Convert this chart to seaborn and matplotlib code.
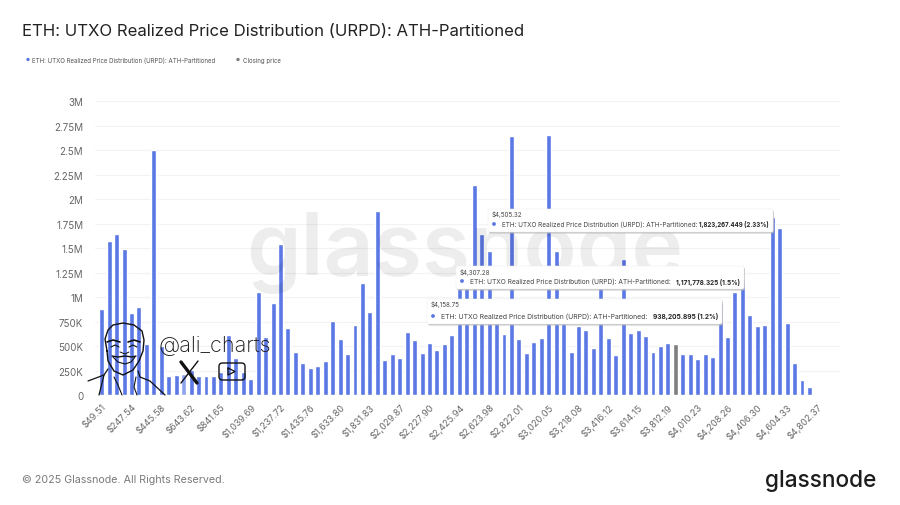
import matplotlib
matplotlib.use('Agg')
import matplotlib.pyplot as plt
import numpy as np
import pandas as pd
import seaborn as sns
from matplotlib.patches import FancyBboxPatch, Circle

SERIES_NAME = 'ETH: UTXO Realized Price Distribution (URPD): ATH-Partitioned'

supply = [
	880000, 1572000, 1645000, 1495000, 835000, 900000, 520000, 2505000, 505000, 195000,
	205000, 210000, 255000, 195000, 192000, 192000, 235000, 612000, 380000, 235000,
	168000, 1056000, 595000, 937000, 1543000, 680000, 441000, 322000, 277000, 294000,
	345000, 756000, 570000, 420000, 714000, 1140000, 844000, 1880000, 355000, 415000,
	373000, 646000, 560000, 431000, 536000, 455000, 523000, 612000, 1150000, 1200000,
	2145000, 1645000, 1474000, 880000, 618000, 2647000, 570000, 431000, 543000, 585000,
	2653000, 1470000, 900000, 441000, 706000, 663000, 482000, 1200000, 578000, 405000,
	1387000, 636000, 663000, 606000, 441000, 499000, 536000, 526000, 414000, 420000,
	369000, 417000, 390000, 938000, 588000, 1056000, 1171000, 816000, 704000, 718000,
	1823000, 1703000, 731000, 322000, 158000, 83000, 10000, 4000, 3000, 2000,
]
closing_bin = 77
hover_bin = 11

price_labels = [
	'$49.51', '$247.54', '$445.58', '$643.62', '$841.65', '$1,039.69', '$1,237.72',
	'$1,435.76', '$1,633.80', '$1,831.83', '$2,029.87', '$2,227.90', '$2,425.94',
	'$2,623.98', '$2,822.01', '$3,020.05', '$3,218.08', '$3,416.12', '$3,614.15',
	'$3,812.19', '$4,010.23', '$4,208.26', '$4,406.30', '$4,604.33', '$4,802.37',
]
y_ticks = [0, 250000, 500000, 750000, 1000000, 1250000, 1500000, 1750000, 2000000,
	2250000, 2500000, 2750000, 3000000]
y_labels = ['0', '250K', '500K', '750K', '1M', '1.25M', '1.5M', '1.75M', '2M',
	'2.25M', '2.5M', '2.75M', '3M']

tooltip_prices = ['$4,505.32', '$4,307.28', '$4,158.75']
tooltip_values = ['1,823,267.449 (2.33%)', '1,171,778.325 (1.5%)', '938,205.895 (1.2%)']

# pixel boxes and font sizes of the pasted tooltips
TOOLTIP_BOXES = [(488, 210, 773, 233), (456, 267, 744, 290), (427, 300, 722, 325)]
TOOLTIP_NAME_SIZES = [4.62, 4.76, 4.92]
TOOLTIP_VALUE_SIZES = [4.4, 4.6, 4.77]

BLUE = '#5b78e5'
GREY = '#7f7f7f'
LIGHT = '#8ea3ee'

def px_axes(fig, left, top, right, bottom):
	return fig.add_axes([left / 900, 1 - bottom / 506, (right - left) / 900, (bottom - top) / 506])

def draw_bars(ax):
	kinds = ['bar'] * len(supply)
	kinds[closing_bin] = 'close'
	kinds[hover_bin] = 'hover'
	df = pd.DataFrame({'bin': range(len(supply)), 'supply': supply, 'kind': kinds})
	sns.barplot(data=df, x='bin', y='supply', hue='kind', dodge=False, width=0.66, ax=ax,
		palette={'bar': BLUE, 'close': GREY, 'hover': LIGHT}, legend=False, saturation=1)
	ax.set_xlim(-0.9, 99.1)
	ax.set_ylim(0, 3000000)
	ax.set_xticks(range(0, len(price_labels) * 4, 4))
	ax.set_xticklabels(price_labels, rotation=45, ha='right', rotation_mode='anchor',
		fontsize=6.6, color='#666666')
	ax.set_yticks(y_ticks)
	ax.set_yticklabels(y_labels, fontsize=7, color='#666666')
	ax.tick_params(length=0, axis='y', pad=8.5)
	ax.tick_params(length=0, axis='x', pad=5)
	ax.set_xlabel('')
	ax.set_ylabel('')
	ax.grid(axis='y', color='#f3f3f3', linewidth=0.9)
	ax.set_axisbelow(True)
	sns.despine(ax=ax, left=True, bottom=True)

def draw_tooltip(ov, i):
	x0, y0, x1, y1 = TOOLTIP_BOXES[i]
	ov.add_patch(FancyBboxPatch((x0 + 1, y0 + 1.5), x1 - x0, y1 - y0, boxstyle='round,pad=0,rounding_size=2',
		fc='#b5b5b5', ec='none', alpha=0.8, zorder=5))
	ov.add_patch(FancyBboxPatch((x0, y0), x1 - x0, y1 - y0, boxstyle='round,pad=0,rounding_size=2',
		fc='white', ec='#eeeeee', lw=0.4, zorder=6))
	ov.text(x0 + 4, y0 + 5, tooltip_prices[i], fontsize=4.5, color='#444444', va='center', zorder=7)
	ov.add_patch(Circle((x0 + 6, y1 - 8), 1.9, fc=BLUE, ec='none', zorder=7))
	ov.text(x0 + 14, y1 - 8, SERIES_NAME + ':', fontsize=TOOLTIP_NAME_SIZES[i], color='#444444',
		va='center', zorder=7)
	ov.text(x1 - 4, y1 - 8, tooltip_values[i], fontsize=TOOLTIP_VALUE_SIZES[i], color='#222222',
		weight='bold', va='center', ha='right', zorder=7)

def draw_face(ov):
	# rough line drawing of the account avatar
	head_x = [107, 105, 108, 113, 123, 134, 142, 144, 143, 139, 133, 123, 114, 108, 107]
	head_y = [352, 340, 331, 326, 324, 326, 332, 341, 352, 362, 371, 376, 372, 362, 352]
	ov.plot(head_x, head_y, color='#111111', lw=1, zorder=4)
	ov.plot([88, 104, 108], [382, 376, 370], color='#111111', lw=0.9, zorder=4)
	ov.plot([104, 99], [376, 396], color='#111111', lw=0.9, zorder=4)
	ov.plot([138, 140, 150, 165], [372, 378, 382, 396], color='#111111', lw=0.9, zorder=4)
	ov.plot([114, 118, 122], [378, 386, 396], color='#111111', lw=0.8, zorder=4)
	ov.plot([136, 134, 137], [378, 388, 396], color='#111111', lw=0.8, zorder=4)
	ov.plot([107, 113, 120], [343, 341, 343], color='#111111', lw=1.2, zorder=4)
	ov.plot([128, 134, 140], [343, 341, 343], color='#111111', lw=1.2, zorder=4)
	ov.plot([111, 115, 119], [348, 346, 348], color='#111111', lw=0.8, zorder=4)
	ov.plot([129, 133, 137], [348, 346, 348], color='#111111', lw=0.8, zorder=4)
	ov.plot([112, 118, 125, 132, 136], [357, 358, 357, 358, 357], color='#111111', lw=1, zorder=4)
	ov.plot([113, 118, 125, 131, 135], [358, 363, 365, 363, 358], color='#111111', lw=0.8, zorder=4)
	ov.plot([120, 125, 129], [353, 355, 353], color='#111111', lw=0.7, zorder=4)

def draw_socials(ov):
	ov.text(158, 346, '@ali_charts', fontsize=15.6, color='#1a1a1a', va='center', weight='light', zorder=4)
	ov.plot([181, 197], [363, 384], color='#111111', lw=2.4, zorder=4)
	ov.plot([198, 181], [362, 384], color='#111111', lw=1, zorder=4)
	ov.add_patch(FancyBboxPatch((219, 364), 26, 17, boxstyle='round,pad=0,rounding_size=3.5',
		fc='none', ec='#111111', lw=1, zorder=4))
	ov.plot([228, 228, 235, 228], [369, 376, 372.5, 369], color='#111111', lw=0.9, zorder=4)

def main():
	sns.set_theme(style='white')
	plt.rcParams['font.family'] = ['Inter', 'DejaVu Sans']
	fig = plt.figure(figsize=(9, 5.06), dpi=100)
	ax = px_axes(fig, 95, 102.3, 840, 396)
	draw_bars(ax)

	ov = fig.add_axes([0, 0, 1, 1], zorder=3)
	ov.set_xlim(0, 900)
	ov.set_ylim(506, 0)
	ov.axis('off')
	ov.patch.set_alpha(0)

	ov.text(22, 31, SERIES_NAME, fontsize=12.06, color='#222222', va='center', zorder=8)
	ov.add_patch(Circle((28, 60.5), 1.7, fc=BLUE, ec='none'))
	ov.text(32, 60.5, SERIES_NAME, fontsize=4.42, color='#555555', va='center')
	ov.add_patch(Circle((238, 60.5), 1.7, fc=GREY, ec='none'))
	ov.text(243, 60.5, 'Closing price', fontsize=4.42, color='#555555', va='center')

	ov.text(465, 253, 'glassnode', fontsize=63, color='#000000', alpha=0.07, weight='semibold',
		ha='center', va='center', zorder=2)
	draw_face(ov)
	draw_socials(ov)
	for i in range(len(TOOLTIP_BOXES)):
		draw_tooltip(ov, i)

	ov.text(22, 480, '© 2025 Glassnode. All Rights Reserved.', fontsize=7.7, color='#7a7a7a', va='center')
	ov.text(821, 481, 'glassnode', fontsize=16.3, color='#1c1c1c', weight='medium', ha='center', va='center')

	fig.savefig('out.png', dpi=100)

if __name__ == '__main__':
	main()
